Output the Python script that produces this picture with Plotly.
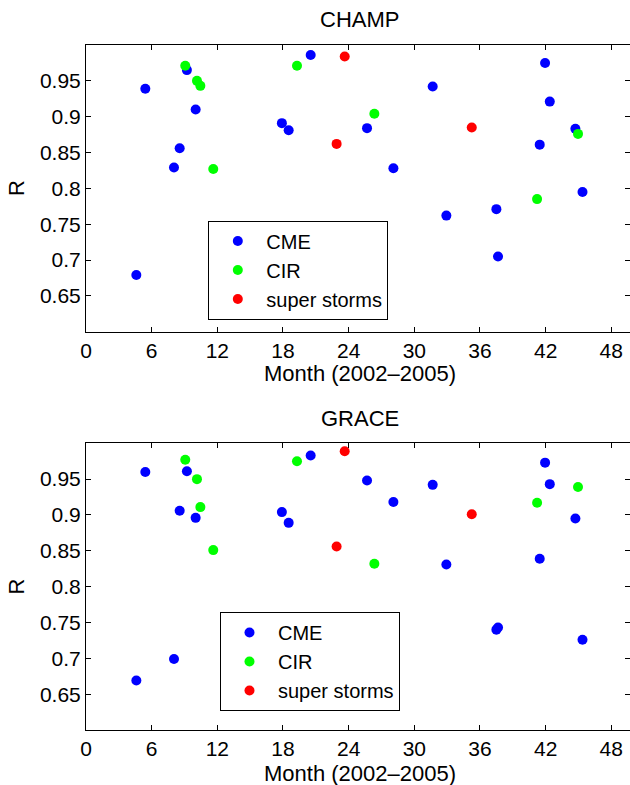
import plotly.graph_objects as go

# ---------------- data ----------------
cme_month = [4.6, 5.42, 8.04, 8.56, 9.22, 10.02, 17.9, 18.52, 20.53, 25.68,
             28.09, 31.68, 32.93, 37.5, 37.65, 41.46, 41.95, 42.38, 44.72, 45.37]
cir_month = [9.07, 10.14, 10.45, 11.63, 19.28, 26.35, 41.22, 44.96]
super_month = [22.9, 23.64, 35.25]

champ_cme = [0.679, 0.939, 0.829, 0.856, 0.965, 0.910, 0.891, 0.881, 0.986, 0.884,
             0.828, 0.942, 0.762, 0.771, 0.705, 0.861, 0.975, 0.921, 0.883, 0.795]
champ_cir = [0.971, 0.950, 0.943, 0.827, 0.971, 0.904, 0.785, 0.876]
champ_super = [0.862, 0.984, 0.885]

grace_cme = [0.669, 0.960, 0.699, 0.906, 0.961, 0.896, 0.904, 0.889, 0.983, 0.948,
             0.918, 0.942, 0.831, 0.740, 0.743, 0.839, 0.973, 0.943, 0.895, 0.726]
grace_cir = [0.977, 0.950, 0.911, 0.851, 0.975, 0.832, 0.917, 0.939]
grace_super = [0.856, 0.989, 0.901]

x_ticks = [0, 6, 12, 18, 24, 30, 36, 42, 48]
y_ticks = [0.65, 0.7, 0.75, 0.8, 0.85, 0.9, 0.95]
y_ticklabels = ["0.65", "0.7", "0.75", "0.8", "0.85", "0.9", "0.95"]

series_names = ["CME", "CIR", "super storms"]
series_colors = ["#0000FF", "#00FF00", "#FF0000"]

FONT = "Liberation Sans, Arial, Helvetica, sans-serif"
W, H = 630, 785
ML = 86

fig = go.Figure()

panels = [
    ("x", "y", "legend", [champ_cme, champ_cir, champ_super]),
    ("x2", "y2", "legend2", [grace_cme, grace_cir, grace_super]),
]
months = [cme_month, cir_month, super_month]
for xa, ya, lg, vals in panels:
    for name, col, mx, vy in zip(series_names, series_colors, months, vals):
        fig.add_trace(go.Scatter(
            x=mx, y=vy, mode="markers", name=name,
            marker=dict(color=col, size=10, line=dict(width=0)),
            xaxis=xa, yaxis=ya, legend=lg, showlegend=True))

axis_common = dict(
    showline=True, linecolor="black", linewidth=1, mirror="ticks",
    ticks="inside", ticklen=5, tickwidth=1, tickcolor="black",
    showgrid=False, zeroline=False, automargin=False,
    tickfont=dict(family=FONT, size=21, color="black"),
)
xrange = [0, 49.71]
yrange = [0.6, 1.0]

def py(px):
    return 1 - px / H

def pxx(px):
    return (px - ML) / (W - ML)

leg_common = dict(xanchor="left", yanchor="top", xref="paper", yref="paper",
                  bordercolor="black", borderwidth=1, bgcolor="white",
                  font=dict(family=FONT, size=20, color="black"), itemwidth=47,
                  entrywidth=195, entrywidthmode="pixels")

fig.update_layout(
    width=W, height=H,
    margin=dict(l=ML, r=0, t=0, b=0, autoexpand=False),
    paper_bgcolor="white", plot_bgcolor="white",
    font=dict(family=FONT, size=21, color="black"),
    xaxis=dict(domain=[0, 1], range=xrange, tickvals=x_ticks, anchor="y", **axis_common),
    yaxis=dict(domain=[py(331.7), py(45)], range=yrange, tickvals=y_ticks,
               ticktext=y_ticklabels, anchor="x", **axis_common),
    xaxis2=dict(domain=[0, 1], range=xrange, tickvals=x_ticks, anchor="y2", **axis_common),
    yaxis2=dict(domain=[py(730), py(443.3)], range=yrange, tickvals=y_ticks,
                ticktext=y_ticklabels, anchor="x2", **axis_common),
    legend=dict(x=pxx(208.3), y=py(220.5), **leg_common),
    legend2=dict(x=pxx(220), y=py(612), **leg_common),
)

ann = []
for xr, yc_title, yc_lab, yc_r in [("x", 20, 373, 188.3), ("x2", 418, 773, 586.7)]:
    ann.append(dict(text="CHAMP" if xr == "x" else "GRACE", x=25, xref=xr,
                    y=py(yc_title), yref="paper", showarrow=False,
                    xanchor="center", yanchor="middle", font=dict(size=22)))
    ann.append(dict(text="Month (2002\u20132005)", x=25, xref=xr,
                    y=py(yc_lab), yref="paper", showarrow=False,
                    xanchor="center", yanchor="middle", font=dict(size=22)))
    ann.append(dict(text="R", x=(16.7 - ML) / (W - ML), xref="paper", y=py(yc_r),
                    yref="paper", showarrow=False, textangle=-90, xanchor="center",
                    yanchor="middle", font=dict(size=22)))
fig.update_layout(annotations=ann)

fig.write_html("out.html")
